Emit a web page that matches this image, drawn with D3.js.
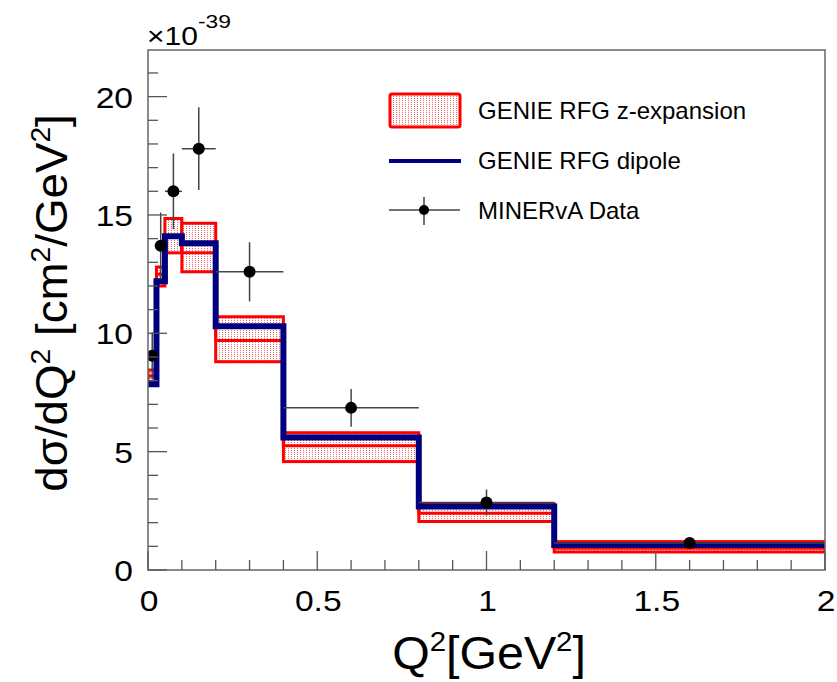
<!DOCTYPE html>
<html>
<head>
<meta charset="utf-8">
<script src="https://cdn.jsdelivr.net/npm/d3@7"></script>
<style>
  body { margin: 0; background: #fff; }
  svg text { font-family: "Liberation Sans", Arial, Helvetica, sans-serif; fill: #000; }
</style>
</head>
<body>
<div id="wrapper"></div>
<script>
// Q2 bins (GeV^2)
const binEdges = [0, 0.025, 0.05, 0.1, 0.2, 0.4, 0.8, 1.2, 2.0];
// GENIE RFG dipole (x1e-39 cm2/GeV2)
const dipole = [7.85, 12.2, 14.1, 13.8, 10.3, 5.6, 2.68, 1.06];
// GENIE RFG z-expansion: central value and band
const zexpCentral = [8.2, 12.5, 14.1, 13.4, 9.7, 5.25, 2.4, 0.92];
const zexpLow  = [7.95, 12.0, 13.4, 12.6, 8.8, 4.58, 2.05, 0.76];
const zexpHigh = [8.45, 12.8, 14.85, 14.65, 10.7, 5.8, 2.8, 1.2];
// MINERvA data
const dataX   = [0.0125, 0.0375, 0.075, 0.15, 0.3, 0.6, 1.0, 1.6];
const dataY   = [9.05, 13.7, 16.0, 17.8, 12.6, 6.85, 2.85, 1.14];
const dataErr = [1.0, 1.4, 1.6, 1.75, 1.25, 0.8, 0.55, 0.2];
// ticks
const xMajor = [0, 0.5, 1, 1.5, 2];
const xTickLabels = ["0", "0.5", "1", "1.5", "2"];
const yMajor = [0, 5, 10, 15, 20];
const legendLabels = ["GENIE RFG z-expansion", "GENIE RFG dipole", "MINERvA Data"];

const W = 837, H = 682;
const mLeft = 148, mRight = 825, mTop = 50, mBottom = 570;

const svg = d3.select("#wrapper").append("svg")
  .attr("width", W).attr("height", H);

const x = d3.scaleLinear().domain([0, 2]).range([mLeft, mRight]);
const y = d3.scaleLinear().domain([0, 21.97]).range([mBottom, mTop]);

// pattern for the red band (light dotted columns)
const defs = svg.append("defs");
const pat = defs.append("pattern").attr("id", "dots")
  .attr("patternUnits", "userSpaceOnUse").attr("width", 3).attr("height", 2);
pat.append("rect").attr("width", 3).attr("height", 2).attr("fill", "#fff");
pat.append("rect").attr("width", 1).attr("height", 1).attr("fill", "#f06a6a");

defs.append("clipPath").attr("id", "plotclip").append("rect")
  .attr("x", mLeft).attr("y", mTop).attr("width", mRight - mLeft).attr("height", mBottom - mTop);

const plot = svg.append("g").attr("clip-path", "url(#plotclip)");

const bins = d3.range(dipole.length);

// z-expansion band
plot.selectAll("rect.band").data(bins).join("rect")
  .attr("class", "band")
  .attr("x", i => x(binEdges[i]))
  .attr("width", i => x(binEdges[i + 1]) - x(binEdges[i]))
  .attr("y", i => y(zexpHigh[i]))
  .attr("height", i => y(zexpLow[i]) - y(zexpHigh[i]))
  .attr("fill", "url(#dots)")
  .attr("stroke", "#ff0000").attr("stroke-width", 3);

// step path through bins
function stepPath(vals) {
  const p = d3.path();
  vals.forEach((v, i) => {
    if (i === 0) p.moveTo(x(binEdges[0]), y(v));
    else p.lineTo(x(binEdges[i]), y(v));
    p.lineTo(x(binEdges[i + 1]), y(v));
  });
  return p.toString();
}

plot.append("path").attr("d", stepPath(zexpCentral))
  .attr("fill", "none").attr("stroke", "#ff0000").attr("stroke-width", 3);

plot.append("path").attr("d", stepPath(dipole))
  .attr("fill", "none").attr("stroke", "#00007f").attr("stroke-width", 6);

// data with errors
const pts = plot.selectAll("g.pt").data(bins).join("g").attr("class", "pt");
pts.append("line")
  .attr("x1", i => x(binEdges[i])).attr("x2", i => x(binEdges[i + 1]))
  .attr("y1", i => y(dataY[i])).attr("y2", i => y(dataY[i]))
  .attr("stroke", "#444").attr("stroke-width", 1.5);
pts.append("line")
  .attr("x1", i => x(dataX[i])).attr("x2", i => x(dataX[i]))
  .attr("y1", i => y(dataY[i] + dataErr[i])).attr("y2", i => y(dataY[i] - dataErr[i]))
  .attr("stroke", "#444").attr("stroke-width", 1.5);
pts.append("circle")
  .attr("cx", i => x(dataX[i])).attr("cy", i => y(dataY[i]))
  .attr("r", 6).attr("fill", "#000");

// frame
svg.append("rect")
  .attr("x", mLeft).attr("y", mTop).attr("width", mRight - mLeft).attr("height", mBottom - mTop)
  .attr("fill", "none").attr("stroke", "#666").attr("stroke-width", 1.5);

// ticks (inside, ROOT style)
const ax = svg.append("g").attr("stroke", "#555").attr("stroke-width", 1.3);
d3.range(0, 2.0001, 0.1).forEach(v => {
  const major = xMajor.some(m => Math.abs(m - v) < 1e-6);
  ax.append("line").attr("x1", x(v)).attr("x2", x(v))
    .attr("y1", mBottom).attr("y2", mBottom - (major ? 19 : 10));
});
d3.range(0, 22, 1).forEach(v => {
  const major = yMajor.includes(v);
  ax.append("line").attr("x1", mLeft).attr("x2", mLeft + (major ? 19 : 10))
    .attr("y1", y(v)).attr("y2", y(v));
});

// tick labels (the original font is a bit wider, so stretch horizontally)
svg.selectAll("text.xt").data(xMajor).join("text").attr("class", "xt")
  .attr("transform", d => `translate(${x(d) + 1},611) scale(1.12,1)`)
  .attr("text-anchor", "middle").attr("font-size", 30)
  .text((d, i) => xTickLabels[i]);
svg.selectAll("text.yt").data(yMajor).join("text").attr("class", "yt")
  .attr("transform", d => `translate(133,${y(d) + 11}) scale(1.12,1)`)
  .attr("text-anchor", "end").attr("font-size", 30)
  .text(d => d);

// exponent
const ex = svg.append("text").attr("transform", "translate(147,45) scale(1.2,1)").attr("font-size", 25);
ex.append("tspan").text("\u00d710");
ex.append("tspan").attr("dy", -17).attr("font-size", 19).text("-39");

// x title
const xt = svg.append("text").attr("transform", "translate(489,669) scale(1.05,1)")
  .attr("text-anchor", "middle").attr("font-size", 46);
xt.append("tspan").text("Q");
xt.append("tspan").attr("dy", -18).attr("font-size", 28).text("2");
xt.append("tspan").attr("dy", 18).text("[GeV");
xt.append("tspan").attr("dy", -18).attr("font-size", 28).text("2");
xt.append("tspan").attr("dy", 18).text("]");

// y title
const yt = svg.append("text")
  .attr("transform", "translate(67,303) rotate(-90) scale(1.04,1)")
  .attr("text-anchor", "middle").attr("font-size", 44);
yt.append("tspan").text("d\u03c3/dQ");
yt.append("tspan").attr("dy", -17).attr("font-size", 27).text("2");
yt.append("tspan").attr("dy", 17).text(" [cm");
yt.append("tspan").attr("dy", -17).attr("font-size", 27).text("2");
yt.append("tspan").attr("dy", 17).text("/GeV");
yt.append("tspan").attr("dy", -17).attr("font-size", 27).text("2");
yt.append("tspan").attr("dy", 17).text("]");

// legend
const lg = svg.append("g");
lg.append("rect").attr("x", 390).attr("y", 94).attr("width", 70).attr("height", 33)
  .attr("rx", 2).attr("fill", "url(#dots)").attr("stroke", "#ff0000").attr("stroke-width", 3);
lg.append("line").attr("x1", 389).attr("x2", 461).attr("y1", 161).attr("y2", 161)
  .attr("stroke", "#00007f").attr("stroke-width", 4);
lg.append("line").attr("x1", 389).attr("x2", 460).attr("y1", 210).attr("y2", 210)
  .attr("stroke", "#444").attr("stroke-width", 1.5);
lg.append("line").attr("x1", 424).attr("x2", 424).attr("y1", 197).attr("y2", 225)
  .attr("stroke", "#444").attr("stroke-width", 1.5);
lg.append("circle").attr("cx", 424).attr("cy", 210).attr("r", 5).attr("fill", "#000");
lg.selectAll("text").data(legendLabels).join("text")
  .attr("x", 478).attr("y", (d, i) => 119 + i * 50)
  .attr("font-size", 24).text(d => d);
</script>
</body>
</html>
